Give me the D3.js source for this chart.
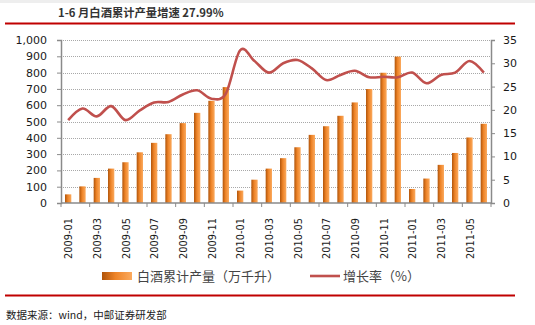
<!DOCTYPE html>
<html>
<head>
<meta charset="utf-8">
<script src="https://cdn.jsdelivr.net/npm/d3@7"></script>
<style>
  body { margin: 0; background: #fff; }
  svg { display: block; }
  text { font-family: "DejaVu Sans", Verdana, sans-serif; }
  .cjk { font-family: "Noto Sans CJK SC", sans-serif; }
</style>
</head>
<body>
<svg id="chart-1" width="535" height="325"></svg>
<script>
// months on the category axis
const months = ['2009-01','2009-02','2009-03','2009-04','2009-05','2009-06',
	'2009-07','2009-08','2009-09','2009-10','2009-11','2009-12',
	'2010-01','2010-02','2010-03','2010-04','2010-05','2010-06',
	'2010-07','2010-08','2010-09','2010-10','2010-11','2010-12',
	'2011-01','2011-02','2011-03','2011-04','2011-05','2011-06'];

// 白酒累计产量 (万千升)
const output = [53, 102, 154, 211, 250, 311, 369, 422, 490, 553, 627, 711,
	76, 143, 211, 275, 342, 418, 471, 535, 617, 699, 799, 898,
	86, 150, 234, 307, 402, 486];

// 增长率 (%)
const growth = [17.8, 20.3, 18.6, 20.8, 17.8, 19.9, 21.6, 21.7, 23.3, 24.2, 22.4, 23.5,
	32.8, 30.5, 28.0, 30.0, 30.7, 28.9, 26.4, 27.5, 28.4, 27.0, 27.1, 27.0,
	28.0, 25.7, 27.5, 28.0, 30.5, 27.99];

const leftTicks = [0, 100, 200, 300, 400, 500, 600, 700, 800, 900, 1000];
const rightTicks = [0, 5, 10, 15, 20, 25, 30, 35];

const svg = d3.select('svg#chart-1');

// plot area
const margin = {top: 40, left: 61, right: 44, bottom: 122};
const W = 535, H = 325;
const x0 = margin.left, x1 = W - margin.right;
const y0 = H - margin.bottom, y1 = margin.top;

const x = d3.scaleBand().domain(months).range([x0, x1]).paddingInner(0.56).paddingOuter(0.28);
const yL = d3.scaleLinear().domain([0, 1000]).range([y0, y1]);
const yR = d3.scaleLinear().domain([0, 35]).range([y0, y1]);

// gradients
const defs = svg.append('defs');
const grad = defs.append('linearGradient').attr('id', 'barGrad')
	.attr('x1', '0%').attr('x2', '100%').attr('y1', '0%').attr('y2', '0%');
grad.append('stop').attr('offset', '0%').attr('stop-color', '#B0540A');
grad.append('stop').attr('offset', '45%').attr('stop-color', '#EE8428');
grad.append('stop').attr('offset', '100%').attr('stop-color', '#FBAA5E');

// header
svg.append('rect').attr('x', 0).attr('y', 0).attr('width', W).attr('height', 3).attr('fill', '#eeeeee');
svg.append('text').attr('class', 'cjk')
	.attr('x', 58).attr('y', 17)
	.attr('font-size', 11.3).attr('font-weight', 'bold').attr('fill', '#333')
	.text('1-6 月白酒累计产量增速 27.99%');
svg.append('line').attr('x1', 5).attr('x2', 515).attr('y1', 23.5).attr('y2', 23.5)
	.attr('stroke', '#C00000').attr('stroke-width', 2);

// gridlines
svg.append('g').selectAll('line').data(leftTicks.filter(d => d > 0))
	.enter().append('line')
		.attr('x1', x0).attr('x2', x1)
		.attr('y1', d => Math.round(yL(d)) + 0.5).attr('y2', d => Math.round(yL(d)) + 0.5)
		.attr('stroke', '#a8a8a8').attr('stroke-width', 1).attr('stroke-dasharray', '1,1');

// bars
svg.append('g').selectAll('rect').data(output)
	.enter().append('rect')
		.attr('x', (d, i) => x(months[i]))
		.attr('y', d => yL(d))
		.attr('width', x.bandwidth())
		.attr('height', d => y0 - yL(d))
		.attr('fill', 'url(#barGrad)');

// axes
const axisColor = '#8a8a8a';
const gL = svg.append('g').attr('transform', `translate(${x0},0)`)
	.call(d3.axisLeft(yL).tickValues(leftTicks).tickSize(4).tickFormat(d3.format(',')));
const gR = svg.append('g').attr('transform', `translate(${x1},0)`)
	.call(d3.axisRight(yR).tickValues(rightTicks).tickSize(4));
[gL, gR].forEach(g => {
	g.select('.domain').attr('stroke', axisColor).attr('stroke-width', 1.5);
	g.selectAll('.tick line').attr('stroke', axisColor);
	g.selectAll('.tick text').attr('font-size', 11).attr('fill', '#1a1a1a')
		.attr('font-family', '"DejaVu Sans", Verdana, sans-serif');
});
gL.selectAll('.tick text').attr('x', -14);
gR.selectAll('.tick text').attr('x', 12);

// bottom axis
const gB = svg.append('g');
gB.append('line').attr('x1', x0).attr('x2', x1).attr('y1', y0).attr('y2', y0)
	.attr('stroke', axisColor).attr('stroke-width', 1.5);
gB.selectAll('line.tk').data(d3.range(0, months.length + 1, 2))
	.enter().append('line').attr('class', 'tk')
		.attr('x1', i => x0 + i * (x1 - x0) / months.length)
		.attr('x2', i => x0 + i * (x1 - x0) / months.length)
		.attr('y1', y0).attr('y2', y0 + 4)
		.attr('stroke', axisColor);
gB.selectAll('text').data(months.filter((d, i) => i % 2 === 0))
	.enter().append('text')
		.attr('transform', d => `translate(${x(d) + x.bandwidth() / 2 + 4},${y0 + 15}) rotate(-90)`)
		.attr('text-anchor', 'end')
		.attr('font-size', 9.8).attr('fill', '#1a1a1a')
		.text(d => d);

// growth line
const line = d3.line()
	.x((d, i) => x(months[i]) + x.bandwidth() / 2)
	.y(d => yR(d))
	.curve(d3.curveCatmullRom.alpha(0));
svg.append('path').datum(growth)
	.attr('d', line)
	.attr('fill', 'none')
	.attr('stroke', '#C0504D')
	.attr('stroke-width', 2.6)
	.attr('stroke-linejoin', 'round');

// legend
const lg = svg.append('g');
lg.append('rect').attr('x', 102).attr('y', 272).attr('width', 30).attr('height', 8).attr('fill', 'url(#barGrad)');
lg.append('text').attr('class', 'cjk').attr('x', 137).attr('y', 281)
	.attr('font-size', 13).attr('fill', '#444').text('白酒累计产量（万千升）');
lg.append('line').attr('x1', 310).attr('x2', 340).attr('y1', 276).attr('y2', 276)
	.attr('stroke', '#C0504D').attr('stroke-width', 2.6);
lg.append('text').attr('class', 'cjk').attr('x', 343).attr('y', 281)
	.attr('font-size', 13).attr('fill', '#444').text('增长率（%）');

// footer
svg.append('line').attr('x1', 5).attr('x2', 515).attr('y1', 295.5).attr('y2', 295.5)
	.attr('stroke', '#C00000').attr('stroke-width', 2);
svg.append('text').attr('class', 'cjk').attr('x', 6).attr('y', 319)
	.attr('font-size', 10.5).attr('fill', '#222')
	.text('数据来源：wind，中邮证券研发部');
</script>
</body>
</html>
